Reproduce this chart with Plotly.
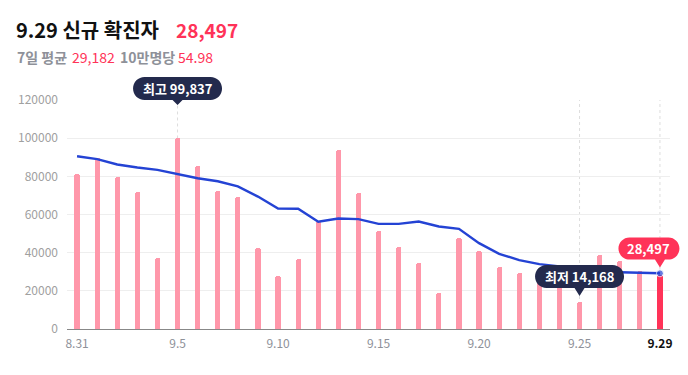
import plotly.graph_objects as go

# ---- data ----
dates = ["8.31", "9.1", "9.2", "9.3", "9.4", "9.5", "9.6", "9.7", "9.8", "9.9",
         "9.10", "9.11", "9.12", "9.13", "9.14", "9.15", "9.16", "9.17", "9.18", "9.19",
         "9.20", "9.21", "9.22", "9.23", "9.24", "9.25", "9.26", "9.27", "9.28", "9.29"]
cases = [81100, 89500, 79500, 71700, 37200, 99837, 85500, 72400, 69200, 42400,
         27700, 36600, 56500, 93800, 71200, 51500, 43100, 34700, 19000, 47800,
         41000, 32600, 29100, 29300, 27100, 14168, 38900, 35800, 30500, 28497]
avg7 = [90500, 89000, 86200, 84600, 83400, 81100, 79000, 77400, 74700, 69400,
        63100, 63000, 56200, 57900, 57600, 55100, 55100, 56300, 53700, 52500,
        45000, 39400, 36100, 34000, 32800, 31000, 30000, 29700, 29300, 29182]
tick_labels = ["8.31", "9.5", "9.10", "9.15", "9.20", "9.25", "9.29"]
y_ticks = [0, 20000, 40000, 60000, 80000, 100000, 120000]
title_text = "9.29 신규 확진자"
title_value = "28,497"
avg_label, avg_value = "7일 평균", "29,182"
per_label, per_value = "10만명당", "54.98"

# ---- layout constants ----
W, Hh = 688, 375
ML, MR, MT, MB = 67, 18, 100, 46
PW, PH = W - ML - MR, Hh - MT - MB
RED = "#ff3358"
PINK = "#ff97aa"
NAVY = "#232a4d"
GRAY = "#8e9199"
FONT = "Noto Sans CJK KR, Noto Sans, sans-serif"

idx = list(range(len(dates)))
x_range = [-0.5, len(dates) - 0.5]
y_range = [0, y_ticks[-1]]
max_i = max(idx, key=lambda i: cases[i])
min_i = min(idx, key=lambda i: cases[i])
last_i = idx[-1]

def px2paper_x(px):
    return (px - ML) / PW

def px2paper_y(py):
    return (Hh - MB - py) / PH

def data2paper_x(v):
    return (v - x_range[0]) / (x_range[1] - x_range[0])

def data2paper_y(v):
    return (v - y_range[0]) / (y_range[1] - y_range[0])

bar_colors = [PINK] * (len(dates) - 1) + [RED]

fig = go.Figure()
fig.add_trace(go.Bar(
    x=idx, y=cases, width=0.26,
    marker=dict(color=bar_colors, cornerradius=3, line=dict(width=0)),
    hoverinfo="skip",
))
fig.add_trace(go.Scatter(
    x=idx, y=avg7, mode="lines+markers",
    line=dict(color="#2443d4", width=2.4),
    marker=dict(size=[0] * (len(dates) - 1) + [7], color="#2443d4"),
    hoverinfo="skip",
))

def pill_path(w, h, cx, yb, tip, pw=5):
    left, right = cx - w / 2, cx + w / 2
    yt = yb + h
    r = h / 2
    k = 0.5523 * r
    p = (f"M {left + r},{yb} L {-pw},{yb} L 0,{tip} L {pw},{yb} L {right - r},{yb} "
         f"C {right - r + k},{yb} {right},{yb + r - k} {right},{yb + r} "
         f"C {right},{yb + r + k} {right - r + k},{yt} {right - r},{yt} "
         f"L {left + r},{yt} "
         f"C {left + r - k},{yt} {left},{yb + r + k} {left},{yb + r} "
         f"C {left},{yb + r - k} {left + r - k},{yb} {left + r},{yb} Z")
    return p

shapes = []
# dotted guide lines
shapes.append(dict(type="line", xref="x", yref="y", x0=max_i, x1=max_i,
                   y0=cases[max_i], y1=y_ticks[-1], layer="below",
                   line=dict(color="#dddddd", width=1, dash="dot")))
for i in (min_i, last_i):
    shapes.append(dict(type="line", xref="x", yref="y", x0=i, x1=i,
                       y0=0, y1=y_ticks[-1], layer="below",
                       line=dict(color="#dddddd", width=1, dash="dot")))

annotations = []

def add_pill(i, yval, text, color, w, h, yb, tip, cx=0):
    shapes.append(dict(type="path", xref="paper", yref="paper",
                       xsizemode="pixel", ysizemode="pixel",
                       xanchor=data2paper_x(i), yanchor=data2paper_y(yval),
                       path=pill_path(w, h, cx, yb, tip),
                       fillcolor=color, line=dict(width=0), layer="above"))
    annotations.append(dict(x=i, y=yval, xref="x", yref="y", text=text,
                            showarrow=False, xshift=cx, yshift=yb + h / 2,
                            font=dict(family=FONT, size=13, color="white"),
                            xanchor="center", yanchor="middle"))

add_pill(max_i, cases[max_i], f"<b>최고 {cases[max_i]:,}</b>", NAVY, 89, 23, 38.5, 33.5)
add_pill(min_i, cases[min_i], f"<b>최저 {cases[min_i]:,}</b>", NAVY, 89, 23, 14, 6)
add_pill(last_i, cases[last_i], f"<b>{cases[last_i]:,}</b>", RED, 61, 22, 15, 7, cx=-11)

# header texts
annotations += [
    dict(x=px2paper_x(14), y=px2paper_y(30), xref="paper", yref="paper",
         text=f"<b>{title_text}</b>", showarrow=False, xanchor="left", yanchor="middle",
         font=dict(family=FONT, size=20, color="#111111")),
    dict(x=px2paper_x(174), y=px2paper_y(30), xref="paper", yref="paper",
         text=f"<b>{title_value}</b>", showarrow=False, xanchor="left", yanchor="middle",
         font=dict(family=FONT, size=19, color=RED)),
    dict(x=px2paper_x(15), y=px2paper_y(57), xref="paper", yref="paper",
         text=f"<b>{avg_label}</b>", showarrow=False, xanchor="left", yanchor="middle",
         font=dict(family=FONT, size=14, color=GRAY)),
    dict(x=px2paper_x(70), y=px2paper_y(57), xref="paper", yref="paper",
         text=avg_value, showarrow=False, xanchor="left", yanchor="middle",
         font=dict(family=FONT, size=14, color=RED)),
    dict(x=px2paper_x(118), y=px2paper_y(57), xref="paper", yref="paper",
         text=f"<b>{per_label}</b>", showarrow=False, xanchor="left", yanchor="middle",
         font=dict(family=FONT, size=14, color=GRAY)),
    dict(x=px2paper_x(176), y=px2paper_y(57), xref="paper", yref="paper",
         text=per_value, showarrow=False, xanchor="left", yanchor="middle",
         font=dict(family=FONT, size=14, color=RED)),
]

tickvals = [dates.index(t) for t in tick_labels]
ticktext = [t if t != dates[-1] else f"<b><span style='color:#111111'>{t}</span></b>"
            for t in tick_labels]

fig.update_layout(
    width=W, height=Hh,
    margin=dict(l=ML, r=MR, t=MT, b=MB, pad=0),
    paper_bgcolor="white", plot_bgcolor="white",
    showlegend=False,
    shapes=shapes, annotations=annotations,
    xaxis=dict(range=x_range, tickvals=tickvals, ticktext=ticktext,
               showgrid=False, zeroline=False, showline=True, linecolor="#888888",
               linewidth=1, ticks="", ticklabelstandoff=4,
               tickfont=dict(family=FONT, size=12, color=GRAY), fixedrange=True),
    yaxis=dict(range=y_range, tickvals=y_ticks,
               ticktext=[str(v) for v in y_ticks],
               showgrid=True, gridcolor="#eeeeee", gridwidth=1, zeroline=False,
               showline=False, ticks="", ticklabelstandoff=8,
               tickfont=dict(family=FONT, size=12, color="#a0a0a0"), fixedrange=True),
    bargap=0,
)

fig.write_html("out.html", config={"displayModeBar": False},
               post_script="document.body.style.margin='0';document.body.style.overflow='hidden';")
